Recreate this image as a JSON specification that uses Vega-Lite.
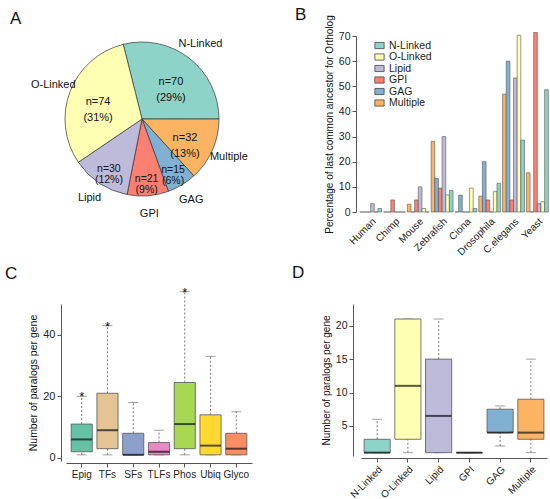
{
  "$schema": "https://vega.github.io/schema/vega-lite/v6.json",
  "background": "white",
  "padding": {"left": 5, "top": 5, "right": 0, "bottom": 0},
  "config": {
    "font": "Liberation Sans",
    "view": {"stroke": null},
    "axis": {"grid": false, "labelFont": "Liberation Sans", "titleFont": "Liberation Sans", "titleFontWeight": "normal", "labelColor": "#222", "titleColor": "#111", "domainColor": "#555", "tickColor": "#555", "labelOverlap": false},
    "title": {"font": "Liberation Sans", "fontSize": 17, "fontWeight": "normal", "anchor": "start", "frame": "group", "color": "#111"},
    "legend": {"labelFont": "Liberation Sans"}
  },
  "resolve": {"scale": {"color": "independent"}, "legend": {"color": "independent"}},
  "spacing": 7,
  "vconcat": [
    {
      "hconcat": [
        {
          "width": 152,
          "height": 166,
          "title": {"text": "A", "dx": -56, "offset": 8},
          "data": {"values": [
            {"type": "N-Linked", "n": 70, "ord": 1, "lab": "n=70\n(29%)"},
            {"type": "Multiple", "n": 32, "ord": 2, "lab": "n=32\n(13%)"},
            {"type": "GAG", "n": 15, "ord": 3, "lab": "n=15\n(6%)"},
            {"type": "GPI", "n": 21, "ord": 4, "lab": "n=21\n(9%)"},
            {"type": "Lipid", "n": 30, "ord": 5, "lab": "n=30\n(12%)"},
            {"type": "O-Linked", "n": 74, "ord": 6, "lab": "n=74\n(31%)"}
          ]},
          "encoding": {
            "theta": {"field": "n", "type": "quantitative", "stack": true, "scale": {"range": [-0.246, 6.037]}},
            "order": {"field": "ord", "type": "quantitative"}
          },
          "layer": [
            {
              "mark": {"type": "arc", "outerRadius": 77, "stroke": "#333", "strokeWidth": 0.7},
              "encoding": {"color": {"field": "type", "type": "nominal", "scale": {"domain": ["N-Linked", "O-Linked", "Lipid", "GPI", "GAG", "Multiple"], "range": ["#8dd3c7", "#ffffb3", "#bebada", "#fb8072", "#80b1d3", "#fdb462"]}, "legend": null}}
            },
            {
              "mark": {"type": "text", "radius": 95, "fontSize": 11, "fill": "#111", "baseline": "middle"},
              "encoding": {"text": {"field": "type"}}
            },
            {
              "mark": {"type": "text", "radius": 47, "fontSize": 11, "fill": "#111", "baseline": "middle", "lineBreak": "\n", "lineHeight": 16},
              "encoding": {"text": {"condition": {"test": "indexof(['Lipid','GPI','GAG'], datum.type) < 0", "field": "lab"}, "value": ""}}
            },
            {
              "mark": {"type": "text", "radius": 60, "fontSize": 10.5, "fill": "#111", "baseline": "middle", "lineBreak": "\n", "lineHeight": 11},
              "encoding": {"text": {"condition": {"test": "indexof(['Lipid','GPI','GAG'], datum.type) >= 0", "field": "lab"}, "value": ""}}
            }
          ]
        },
        {
          "width": 190,
          "height": 176,
          "title": {"text": "B", "dx": -64, "offset": -9},
          "data": {"values": [
            {"species": "Human", "type": "Multiple", "pct": 0}, {"species": "Human", "type": "GAG", "pct": 0}, {"species": "Human", "type": "GPI", "pct": 0}, {"species": "Human", "type": "Lipid", "pct": 3.3}, {"species": "Human", "type": "O-Linked", "pct": 0}, {"species": "Human", "type": "N-Linked", "pct": 1.4},
            {"species": "Chimp", "type": "Multiple", "pct": 0}, {"species": "Chimp", "type": "GAG", "pct": 0}, {"species": "Chimp", "type": "GPI", "pct": 4.8}, {"species": "Chimp", "type": "Lipid", "pct": 0}, {"species": "Chimp", "type": "O-Linked", "pct": 0}, {"species": "Chimp", "type": "N-Linked", "pct": 0},
            {"species": "Mouse", "type": "Multiple", "pct": 3.1}, {"species": "Mouse", "type": "GAG", "pct": 0}, {"species": "Mouse", "type": "GPI", "pct": 4.8}, {"species": "Mouse", "type": "Lipid", "pct": 10}, {"species": "Mouse", "type": "O-Linked", "pct": 1.4}, {"species": "Mouse", "type": "N-Linked", "pct": 0},
            {"species": "Zebrafish", "type": "Multiple", "pct": 28.1}, {"species": "Zebrafish", "type": "GAG", "pct": 13.3}, {"species": "Zebrafish", "type": "GPI", "pct": 9.5}, {"species": "Zebrafish", "type": "Lipid", "pct": 30}, {"species": "Zebrafish", "type": "O-Linked", "pct": 6.8}, {"species": "Zebrafish", "type": "N-Linked", "pct": 8.6},
            {"species": "Ciona", "type": "Multiple", "pct": 0}, {"species": "Ciona", "type": "GAG", "pct": 6.7}, {"species": "Ciona", "type": "GPI", "pct": 0}, {"species": "Ciona", "type": "Lipid", "pct": 0}, {"species": "Ciona", "type": "O-Linked", "pct": 9.5}, {"species": "Ciona", "type": "N-Linked", "pct": 1.4},
            {"species": "Drosophila", "type": "Multiple", "pct": 6.3}, {"species": "Drosophila", "type": "GAG", "pct": 20}, {"species": "Drosophila", "type": "GPI", "pct": 4.8}, {"species": "Drosophila", "type": "Lipid", "pct": 0}, {"species": "Drosophila", "type": "O-Linked", "pct": 8.1}, {"species": "Drosophila", "type": "N-Linked", "pct": 11.4},
            {"species": "C.elegans", "type": "Multiple", "pct": 46.9}, {"species": "C.elegans", "type": "GAG", "pct": 60}, {"species": "C.elegans", "type": "GPI", "pct": 4.8}, {"species": "C.elegans", "type": "Lipid", "pct": 53.3}, {"species": "C.elegans", "type": "O-Linked", "pct": 70.3}, {"species": "C.elegans", "type": "N-Linked", "pct": 28.6},
            {"species": "Yeast", "type": "Multiple", "pct": 15.6}, {"species": "Yeast", "type": "GAG", "pct": 0}, {"species": "Yeast", "type": "GPI", "pct": 71.4}, {"species": "Yeast", "type": "Lipid", "pct": 3.3}, {"species": "Yeast", "type": "O-Linked", "pct": 4.1}, {"species": "Yeast", "type": "N-Linked", "pct": 48.6}
          ]},
          "mark": {"type": "bar", "stroke": "#555", "strokeWidth": 0.6},
          "encoding": {
            "x": {"field": "species", "type": "nominal", "sort": ["Human", "Chimp", "Mouse", "Zebrafish", "Ciona", "Drosophila", "C.elegans", "Yeast"], "scale": {"paddingInner": 0.08, "paddingOuter": 0.03}, "title": null,
                  "axis": {"labelAngle": -45, "labelFontSize": 10, "domain": false, "ticks": false, "labelPadding": 4}},
            "xOffset": {"field": "type", "type": "nominal", "scale": {"domain": ["Multiple", "GAG", "GPI", "Lipid", "O-Linked", "N-Linked"]}},
            "y": {"field": "pct", "type": "quantitative", "scale": {"domain": [0, 70], "nice": false}, "title": "Percentage of last common ancestor for Ortholog",
                  "axis": {"values": [0, 10, 20, 30, 40, 50, 60, 70], "labelFontSize": 10.5, "titleFontSize": 10, "offset": 3, "tickSize": 4, "titlePadding": 4}},
            "color": {"field": "type", "type": "nominal", "scale": {"domain": ["N-Linked", "O-Linked", "Lipid", "GPI", "GAG", "Multiple"], "range": ["#8dd3c7", "#ffffb3", "#bebada", "#fb8072", "#80b1d3", "#fdb462"]},
                      "legend": {"orient": "none", "legendX": 15, "legendY": 4, "title": null, "symbolType": "M-1,-0.67H1V0.67H-1Z", "symbolSize": 85, "symbolStrokeColor": "#444", "symbolStrokeWidth": 0.8, "labelFontSize": 10.5, "labelColor": "#222", "rowPadding": 0.5, "labelOffset": 4}}
          }
        }
      ],
      "spacing": 47,
      "resolve": {"scale": {"color": "independent"}, "legend": {"color": "independent"}}
    },
    {
      "hconcat": [
        {
          "width": 186,
          "height": 157,
          "title": {"text": "C", "dx": -61, "offset": 4},
          "data": {"values": [
            {"cat": "Epig", "min": 1, "q1": 2, "med": 6, "q3": 11, "max": 20, "star": 20},
            {"cat": "TFs", "min": 1, "q1": 3, "med": 9, "q3": 21, "max": 43, "star": 43},
            {"cat": "SFs", "min": 1, "q1": 1, "med": 1, "q3": 8, "max": 18, "star": null},
            {"cat": "TLFs", "min": 1, "q1": 1, "med": 2, "q3": 5, "max": 9, "star": null},
            {"cat": "Phos", "min": 1, "q1": 3, "med": 11, "q3": 24.5, "max": 54, "star": 54},
            {"cat": "Ubiq", "min": 1, "q1": 1, "med": 4, "q3": 14, "max": 33, "star": null},
            {"cat": "Glyco", "min": 1, "q1": 1, "med": 3, "q3": 8, "max": 15, "star": null}
          ]},
          "encoding": {
            "x": {"field": "cat", "type": "nominal", "sort": ["Epig", "TFs", "SFs", "TLFs", "Phos", "Ubiq", "Glyco"], "scale": {"paddingInner": 0.18, "paddingOuter": 0.2}, "title": null,
                  "axis": {"labelAngle": 0, "labelFontSize": 10, "offset": 2, "tickSize": 4}}
          },
          "layer": [
            {"mark": {"type": "rule", "color": "#777", "strokeDash": [2, 2]}, "encoding": {"y": {"field": "q3", "type": "quantitative", "scale": {"domain": [-1, 50], "nice": false, "zero": false},
              "title": "Number of paralogs per gene", "axis": {"values": [0, 10, 20, 30, 40, 50], "labelFontSize": 11, "titleFontSize": 10.5, "offset": 5, "tickSize": 4, "labelOverlap": false}}, "y2": {"field": "max"}}},
            {"mark": {"type": "rule", "color": "#777", "strokeDash": [2, 2]}, "encoding": {"y": {"field": "min", "type": "quantitative"}, "y2": {"field": "q1"}}},
            {"mark": {"type": "tick", "color": "#777", "size": 10, "thickness": 1}, "encoding": {"y": {"field": "max", "type": "quantitative"}}},
            {"mark": {"type": "tick", "color": "#777", "size": 10, "thickness": 1}, "encoding": {"y": {"field": "min", "type": "quantitative"}}},
            {"mark": {"type": "bar", "stroke": "#555", "strokeWidth": 0.8}, "encoding": {"y": {"field": "q1", "type": "quantitative"}, "y2": {"field": "q3"},
              "color": {"field": "cat", "type": "nominal", "scale": {"domain": ["Epig", "TFs", "SFs", "TLFs", "Phos", "Ubiq", "Glyco"], "range": ["#66c2a5", "#e5c494", "#8da0cb", "#e78ac3", "#a6d854", "#ffd92f", "#fc8d62"]}, "legend": null}}},
            {"mark": {"type": "tick", "color": "#111", "size": 21, "thickness": 2}, "encoding": {"y": {"field": "med", "type": "quantitative"}}},
            {"transform": [{"filter": "datum.star != null"}], "mark": {"type": "text", "text": "*", "fontSize": 13, "baseline": "alphabetic", "dy": 5, "color": "#111"}, "encoding": {"y": {"field": "star", "type": "quantitative"}}}
          ]
        },
        {
          "width": 186,
          "height": 152,
          "title": {"text": "D", "dx": -69, "offset": 22},
          "data": {"values": [
            {"cat": "N-Linked", "min": 1, "q1": 1, "med": 1, "q3": 3, "max": 6},
            {"cat": "O-Linked", "min": 1, "q1": 3, "med": 11, "q3": 21, "max": 21},
            {"cat": "Lipid", "min": 1, "q1": 1, "med": 6.5, "q3": 15, "max": 21},
            {"cat": "GPI", "min": 1, "q1": 1, "med": 1, "q3": 1, "max": 1},
            {"cat": "GAG", "min": 2, "q1": 4, "med": 4, "q3": 7.5, "max": 8},
            {"cat": "Multiple", "min": 1, "q1": 3, "med": 4, "q3": 9, "max": 15}
          ]},
          "encoding": {
            "x": {"field": "cat", "type": "nominal", "sort": ["N-Linked", "O-Linked", "Lipid", "GPI", "GAG", "Multiple"], "scale": {"paddingInner": 0.15, "paddingOuter": 0.1}, "title": null,
                  "axis": {"labelAngle": -45, "labelFontSize": 10, "offset": 2, "tickSize": 4}}
          },
          "layer": [
            {"mark": {"type": "rule", "color": "#777", "strokeDash": [2, 2]}, "encoding": {"y": {"field": "q3", "type": "quantitative", "scale": {"domain": [0.5, 23.25], "nice": false, "zero": false},
              "title": "Number of paralogs per gene", "axis": {"values": [5, 10, 15, 20], "labelFontSize": 10.5, "titleFontSize": 10, "offset": 8, "tickSize": 4}}, "y2": {"field": "max"}}},
            {"mark": {"type": "rule", "color": "#777", "strokeDash": [2, 2]}, "encoding": {"y": {"field": "min", "type": "quantitative"}, "y2": {"field": "q1"}}},
            {"mark": {"type": "tick", "color": "#777", "size": 10, "thickness": 1}, "encoding": {"y": {"field": "max", "type": "quantitative"}}},
            {"mark": {"type": "tick", "color": "#777", "size": 10, "thickness": 1}, "encoding": {"y": {"field": "min", "type": "quantitative"}}},
            {"mark": {"type": "bar", "stroke": "#555", "strokeWidth": 0.8}, "encoding": {"y": {"field": "q1", "type": "quantitative"}, "y2": {"field": "q3"},
              "color": {"field": "cat", "type": "nominal", "scale": {"domain": ["N-Linked", "O-Linked", "Lipid", "GPI", "GAG", "Multiple"], "range": ["#8dd3c7", "#ffffb3", "#bebada", "#fb8072", "#80b1d3", "#fdb462"]}, "legend": null}}},
            {"mark": {"type": "tick", "color": "#111", "size": 26, "thickness": 2}, "encoding": {"y": {"field": "med", "type": "quantitative"}}}
          ]
        }
      ],
      "spacing": 40,
      "resolve": {"scale": {"color": "independent"}, "legend": {"color": "independent"}}
    }
  ]
}
